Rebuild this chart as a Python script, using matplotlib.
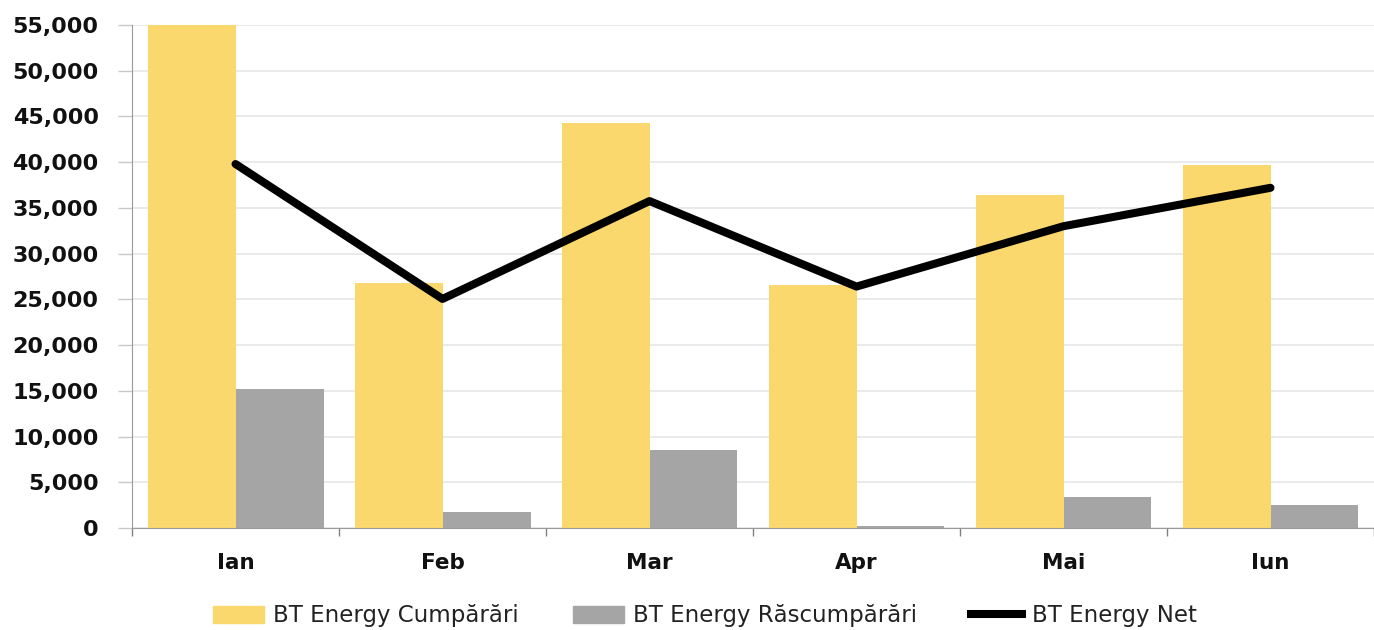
import numpy as np
import matplotlib
matplotlib.use("Agg")
import matplotlib.pyplot as plt
from matplotlib.ticker import FuncFormatter, FixedLocator
from matplotlib.patches import Patch
from matplotlib.lines import Line2D

# data
luni = ["Ian", "Feb", "Mar", "Apr", "Mai", "Iun"]
cumparari = [55000, 26800, 44300, 26600, 36400, 39700]
rascumparari = [15200, 1750, 8550, 200, 3400, 2500]
net = [39800, 25050, 35750, 26400, 33000, 37200]

galben = "#FBD86E"
gri = "#A5A5A5"

fig = plt.figure(figsize=(13.74, 6.3), dpi=100)
ax = fig.add_axes([0.0961, 0.1619, 0.9039, 0.7984])

x = np.arange(len(luni))
w = 0.425
ax.bar(x - w / 2, cumparari, width=w, color=galben, zorder=2)
ax.bar(x + w / 2, rascumparari, width=w, color=gri, zorder=2)
ax.plot(x, net, color="black", linewidth=5.8, solid_capstyle="round", zorder=3)

ax.set_xlim(-0.5, len(luni) - 0.5)
ax.set_ylim(0, 55000)
ax.set_yticks(np.arange(0, 55001, 5000))
ax.yaxis.set_major_formatter(FuncFormatter(lambda v, p: f"{int(v):,}"))
ax.grid(axis="y", color="#E6E6E6", linewidth=1.2, zorder=0)

ax.set_xticks(x)
ax.set_xticklabels(luni)
ax.xaxis.set_minor_locator(FixedLocator(np.arange(-0.5, len(luni), 1.0)))
ax.tick_params(axis="x", which="major", length=0, pad=18, labelsize=15.5)
ax.tick_params(axis="x", which="minor", length=6, color="#808080", width=1)
ax.tick_params(axis="y", length=10, color="#C8C8C8", width=1, pad=14, labelsize=16)
for lab in ax.get_xticklabels() + ax.get_yticklabels():
    lab.set_fontweight("bold")
    lab.set_color("#111111")

for s in ["top", "right"]:
    ax.spines[s].set_visible(False)
ax.spines["left"].set_color("#9A9A9A")
ax.spines["bottom"].set_color("#9A9A9A")

handles = [
    Patch(color=galben, label="BT Energy Cumpărări"),
    Patch(color=gri, label="BT Energy Răscumpărări"),
    Line2D([0], [0], color="black", linewidth=5.8, label="BT Energy Net"),
]
fig.legend(handles=handles, loc="lower left", bbox_to_anchor=(0.155, 0.004), ncol=3,
           frameon=False, fontsize=16.5, handlelength=2.23, handleheight=0.75,
           handletextpad=0.4, columnspacing=2.36, borderpad=0, borderaxespad=0,
           labelcolor="#222222")

fig.savefig("out.png", dpi=100)
